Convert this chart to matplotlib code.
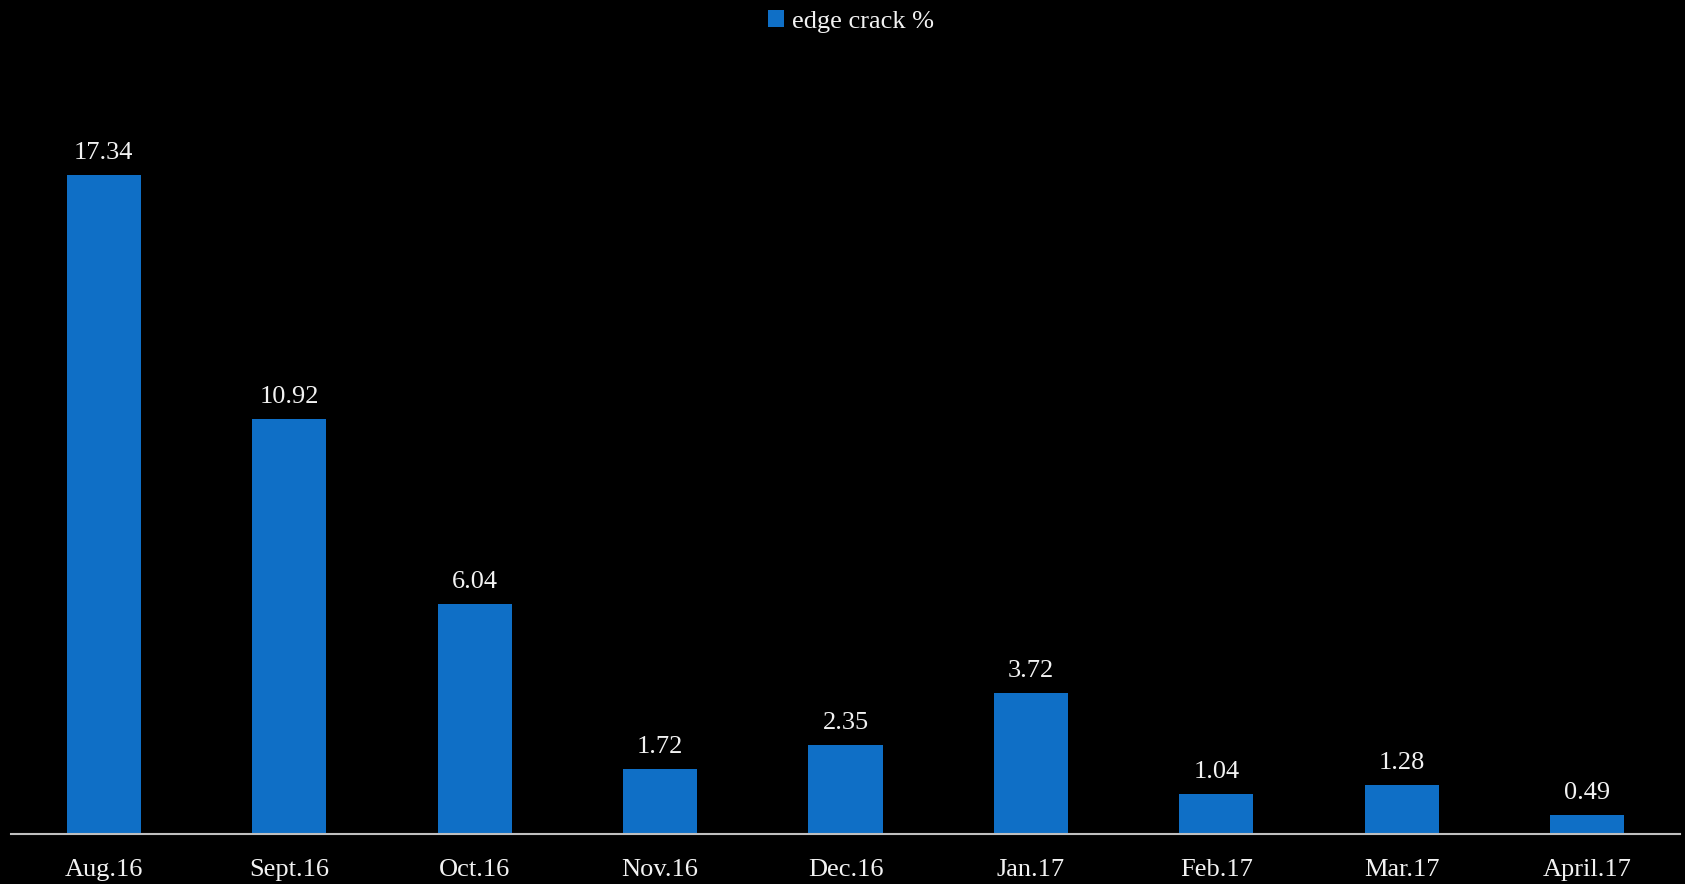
import numpy as np
import matplotlib.pyplot as plt

plt.rcParams['font.family'] = ['Liberation Serif', 'DejaVu Serif']

months = ['Aug.16', 'Sept.16', 'Oct.16', 'Nov.16', 'Dec.16', 'Jan.17', 'Feb.17', 'Mar.17', 'April.17']
edge_crack = [17.34, 10.92, 6.04, 1.72, 2.35, 3.72, 1.04, 1.28, 0.49]

fig = plt.figure(figsize=(16.85, 8.84), dpi=100, facecolor='black')
ax = fig.add_axes([11 / 1685, 50 / 884, 1669 / 1685, 760 / 884])
ax.set_facecolor('black')

x = np.arange(len(months))
bars = ax.bar(x, edge_crack, width=0.4, color='#0F6FC6', label='edge crack %')

for b, v in zip(bars, edge_crack):
    ax.annotate('%.2f' % v, (b.get_x() + b.get_width() / 2, v), xytext=(0, 8),
                textcoords='offset points', ha='center', va='bottom',
                color='#F2F2F2', fontsize=19)

ax.set_xlim(-0.5, len(months) - 0.5)
ax.set_ylim(0, 20)
ax.set_xticks(x)
ax.set_xticklabels(months, fontsize=19, color='#F2F2F2')
ax.tick_params(axis='x', length=0, pad=18)
ax.set_yticks([])
for s in ['top', 'right', 'left']:
    ax.spines[s].set_visible(False)
ax.spines['bottom'].set_color('#BFBFBF')
ax.spines['bottom'].set_linewidth(1.5)

leg = fig.legend(loc='upper center', bbox_to_anchor=(0.505, 1.015), frameon=False,
                 fontsize=19, handlelength=0.6, handleheight=0.6, handletextpad=0.3)
for t in leg.get_texts():
    t.set_color('#F2F2F2')

fig.savefig('out.png', dpi=100, facecolor='black')
